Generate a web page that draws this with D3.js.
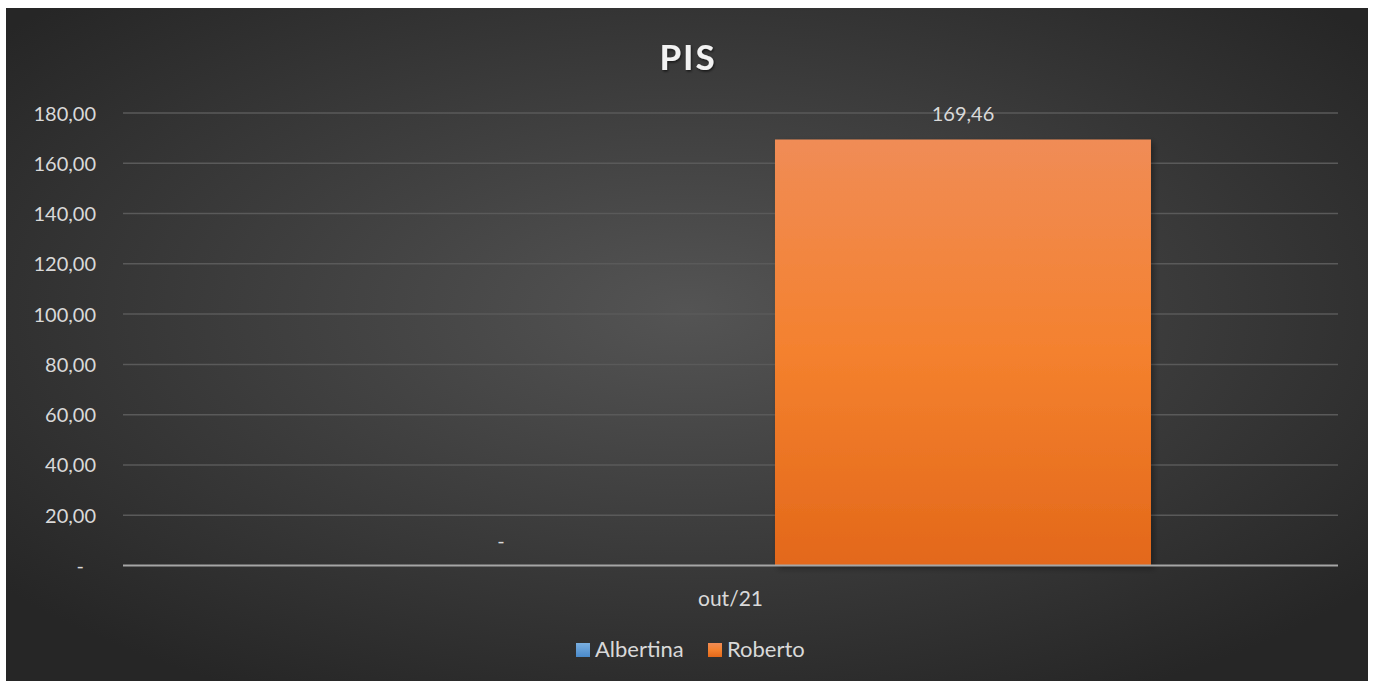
<!DOCTYPE html>
<html>
<head>
<meta charset="utf-8">
<script src="https://cdn.jsdelivr.net/npm/d3@7/dist/d3.min.js"></script>
<style>
  html, body { margin: 0; padding: 0; background: #ffffff; }
  svg { display: block; }
  text { font-family: Lato, "Open Sans", "Noto Sans", sans-serif; }
</style>
</head>
<body>
<svg id="chart" width="1375" height="682"></svg>
<script>
// ---- data ----
const categories = ["out/21"];
const seriesNames = ["Albertina", "Roberto"];
const albertinaValues = [0];
const robertoValues = [169.46];
const yTickValues = [0, 20, 40, 60, 80, 100, 120, 140, 160, 180];
const chartTitle = "PIS";

const seriesValues = [albertinaValues, robertoValues];

// ---- layout ----
const frame = { x: 6, y: 8, w: 1362, h: 673 };
const plot = { left: 123, right: 1338, top: 113, bottom: 565.5 };

const svg = d3.select("#chart");
const defs = svg.append("defs");

const bg = defs.append("radialGradient").attr("id", "bgGrad")
  .attr("cx", "50%").attr("cy", "45%").attr("r", "65%");
bg.append("stop").attr("offset", "0%").attr("stop-color", "#545454");
bg.append("stop").attr("offset", "100%").attr("stop-color", "#262626");

const og = defs.append("linearGradient").attr("id", "orangeGrad")
  .attr("x1", 0).attr("y1", 0).attr("x2", 0).attr("y2", 1);
og.append("stop").attr("offset", "0%").attr("stop-color", "#F08C56");
og.append("stop").attr("offset", "50%").attr("stop-color", "#F4812E");
og.append("stop").attr("offset", "100%").attr("stop-color", "#E3681A");

const bgr = defs.append("linearGradient").attr("id", "blueGrad")
  .attr("x1", 0).attr("y1", 0).attr("x2", 0).attr("y2", 1);
bgr.append("stop").attr("offset", "0%").attr("stop-color", "#7AAFE0");
bgr.append("stop").attr("offset", "100%").attr("stop-color", "#4A8ACB");

const shadow = defs.append("filter").attr("id", "barShadow")
  .attr("x", "-5%").attr("y", "-5%").attr("width", "115%").attr("height", "115%");
shadow.append("feDropShadow").attr("dx", 3).attr("dy", 3).attr("stdDeviation", 3)
  .attr("flood-color", "#000").attr("flood-opacity", 0.35);

const tshadow = defs.append("filter").attr("id", "textShadow")
  .attr("x", "-20%").attr("y", "-20%").attr("width", "140%").attr("height", "140%");
tshadow.append("feDropShadow").attr("dx", 1).attr("dy", 1.5).attr("stdDeviation", 1.2)
  .attr("flood-color", "#000").attr("flood-opacity", 0.6);

const fills = { "Albertina": "url(#blueGrad)", "Roberto": "url(#orangeGrad)" };

// background
svg.append("rect").attr("x", frame.x).attr("y", frame.y)
  .attr("width", frame.w).attr("height", frame.h).attr("fill", "url(#bgGrad)");

// scales
const y = d3.scaleLinear().domain([0, 180]).range([plot.bottom, plot.top]);
const x0 = d3.scaleBand().domain(categories).range([plot.left, plot.right])
  .paddingInner(0).paddingOuter(0.2224);
const x1 = d3.scaleBand().domain(seriesNames).range([0, x0.bandwidth()])
  .paddingInner(0.1914).paddingOuter(0);

const fmt = v => v === 0 ? "-" : d3.format(",.2f")(v).replace(/,/g, "X").replace(".", ",").replace(/X/g, ".");

// gridlines
svg.append("g").selectAll("line").data(yTickValues.filter(v => v !== 0)).join("line")
  .attr("x1", plot.left).attr("x2", plot.right)
  .attr("y1", d => y(d)).attr("y2", d => y(d))
  .attr("stroke", "#5a5a5a").attr("stroke-width", 1.5);

// y axis labels
const yAxis = d3.axisLeft(y).tickValues(yTickValues).tickSize(0).tickPadding(0).tickFormat(fmt);
const yg = svg.append("g").attr("transform", `translate(96,0)`).call(yAxis);
yg.select(".domain").remove();
yg.selectAll("text").attr("fill", "#d9d9d9").attr("font-size", 20)
  .attr("dy", "0.35em")
  .attr("x", d => d === 0 ? -12 : 0);

// bars
const groups = svg.append("g").selectAll("g").data(categories).join("g")
  .attr("transform", c => `translate(${x0(c)},0)`);

groups.selectAll("rect").data((c, ci) => seriesNames.map((s, si) => ({ s, v: seriesValues[si][ci] })))
  .join("rect")
  .attr("x", d => x1(d.s)).attr("width", x1.bandwidth())
  .attr("y", d => y(d.v)).attr("height", d => y(0) - y(d.v))
  .attr("fill", d => fills[d.s])
  .attr("filter", "url(#barShadow)");

// data labels
groups.selectAll("text.lbl").data((c, ci) => seriesNames.map((s, si) => ({ s, v: seriesValues[si][ci] })))
  .join("text").attr("class", "lbl")
  .attr("x", d => x1(d.s) + x1.bandwidth() / 2 + (d.v === 0 ? 3 : 0))
  .attr("y", d => y(d.v) - 18)
  .attr("text-anchor", "middle")
  .attr("fill", "#d9d9d9").attr("font-size", 20)
  .text(d => fmt(d.v));

// x axis baseline
svg.append("line").attr("x1", plot.left).attr("x2", plot.right)
  .attr("y1", y(0)).attr("y2", y(0))
  .attr("stroke", "#a6a6a6").attr("stroke-width", 2.2);

// x axis labels
const xAxis = d3.axisBottom(x0).tickSize(0).tickPadding(0);
const xg = svg.append("g").attr("transform", `translate(0,${y(0)})`).call(xAxis);
xg.select(".domain").remove();
xg.selectAll("text").attr("fill", "#d9d9d9").attr("font-size", 21)
  .attr("dy", 0).attr("y", 40);

// title
svg.append("text").attr("x", 688).attr("y", 70)
  .attr("text-anchor", "middle").attr("font-size", 35).attr("font-weight", "bold")
  .attr("letter-spacing", 2)
  .attr("fill", "#f2f2f2").attr("filter", "url(#textShadow)")
  .text(chartTitle);

// legend
const legendItems = [
  { name: seriesNames[0], x: 576 },
  { name: seriesNames[1], x: 708 }
];
const lg = svg.append("g").selectAll("g").data(legendItems).join("g")
  .attr("transform", d => `translate(${d.x},643)`);
lg.append("rect").attr("width", 14).attr("height", 14)
  .attr("fill", d => fills[d.name]);
lg.append("text").attr("x", 19).attr("y", 14)
  .attr("fill", "#d9d9d9").attr("font-size", 22)
  .text(d => d.name);
</script>
</body>
</html>
